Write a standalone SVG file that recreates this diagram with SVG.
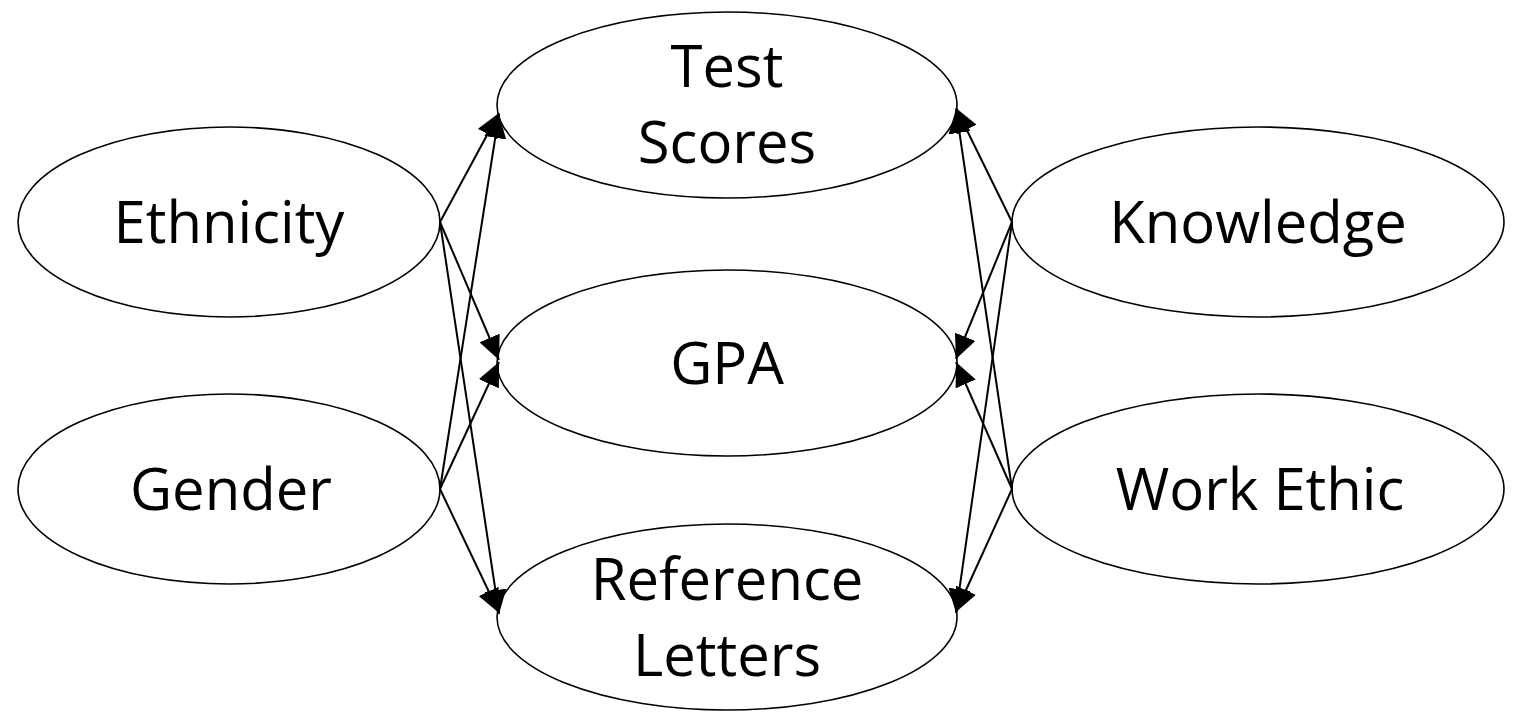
<svg xmlns="http://www.w3.org/2000/svg" width="1513" height="713" viewBox="0 0 1513 713">
<style>
.n ellipse{fill:#fff;stroke:#000;stroke-width:1.6}
.n text{font-family:"Open Sans","Liberation Sans",sans-serif;font-size:58px;text-anchor:middle;fill:#000}
.e line{stroke:#000;stroke-width:2}
</style>
<defs>
<marker id="ah" viewBox="0 0 24 22" refX="24" refY="11" markerWidth="24" markerHeight="22" markerUnits="userSpaceOnUse" orient="auto">
<path d="M0,0 L24,11 L0,22 z" fill="#000"/>
</marker>
</defs>
<rect width="1513" height="713" fill="#fff"/>
<g id="ethnicity" class="n"><ellipse cx="229" cy="222" rx="211" ry="95"/><text x="229" y="243">Ethnicity</text></g>
<g id="gender" class="n"><ellipse cx="229" cy="489" rx="211" ry="95"/><text x="231" y="510">Gender</text></g>
<g id="test-scores" class="n"><ellipse cx="727" cy="105" rx="230" ry="93"/><text x="727" y="87">Test</text><text x="727" y="163">Scores</text></g>
<g id="gpa" class="n"><ellipse cx="727" cy="363" rx="230" ry="93"/><text x="727" y="384">GPA</text></g>
<g id="reference-letters" class="n"><ellipse cx="727" cy="617" rx="230" ry="93"/><text x="727" y="600">Reference</text><text x="727" y="676">Letters</text></g>
<g id="knowledge" class="n"><ellipse cx="1258" cy="222" rx="246" ry="95"/><text x="1258" y="243">Knowledge</text></g>
<g id="work-ethic" class="n"><ellipse cx="1258" cy="489" rx="246" ry="95"/><text x="1260" y="510">Work Ethic</text></g>
<g id="connectors" class="e">
<line x1="440" y1="222" x2="499" y2="113" marker-end="url(#ah)"/>
<line x1="440" y1="222" x2="499" y2="360" marker-end="url(#ah)"/>
<line x1="440" y1="222" x2="499" y2="614" marker-end="url(#ah)"/>
<line x1="440" y1="489" x2="499" y2="114" marker-end="url(#ah)"/>
<line x1="440" y1="489" x2="499" y2="362" marker-end="url(#ah)"/>
<line x1="440" y1="489" x2="499" y2="613" marker-end="url(#ah)"/>
<line x1="1012" y1="222" x2="956" y2="108" marker-end="url(#ah)"/>
<line x1="1012" y1="222" x2="956" y2="359" marker-end="url(#ah)"/>
<line x1="1012" y1="222" x2="956" y2="613" marker-end="url(#ah)"/>
<line x1="1012" y1="489" x2="956" y2="109" marker-end="url(#ah)"/>
<line x1="1012" y1="489" x2="956" y2="362" marker-end="url(#ah)"/>
<line x1="1012" y1="489" x2="956" y2="612" marker-end="url(#ah)"/>
</g>
</svg>
